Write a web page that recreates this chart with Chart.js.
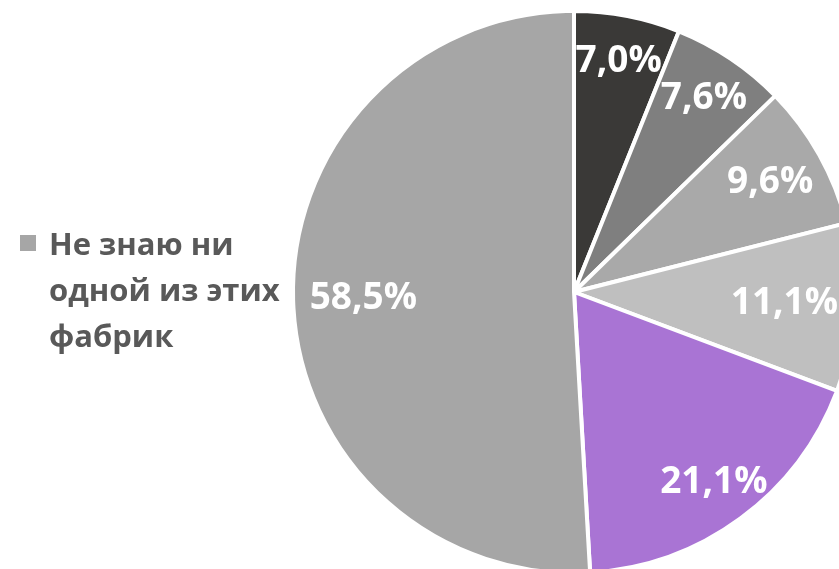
<!DOCTYPE html>
<html>
<head>
<meta charset="utf-8">
<script src="https://cdn.jsdelivr.net/npm/chart.js@4"></script>
<style>
  html, body { margin: 0; padding: 0; background: #fff; overflow: hidden; }
  #wrap { width: 880px; height: 600px; }
</style>
</head>
<body>
<div id="wrap"><canvas id="pie" width="880" height="600"></canvas></div>
<script>
// данные с картинки (сумма > 100, несколько ответов)
const categories = ['', '', '', '', '', 'Не знаю ни одной из этих фабрик'];
const shares = [7.0, 7.6, 9.6, 11.1, 21.1, 58.5];
const colors = ['#3a3937', '#7f7f7f', '#a9a9a9', '#bfbfbf', '#a974d4', '#a6a6a6'];
const legendShown = [5]; // видна только эта подпись легенды

// подписи долей внутри сектора
const sliceLabels = {
  id: 'sliceLabels',
  afterDatasetsDraw(chart, args, opts) {
    const ctx = chart.ctx;
    const meta = chart.getDatasetMeta(0);
    ctx.save();
    ctx.fillStyle = '#ffffff';
    ctx.font = 'bold 37px "Open Sans"';
    ctx.textAlign = 'center';
    ctx.textBaseline = 'middle';
    meta.data.forEach((arc, i) => {
      const p = arc.getProps(['x', 'y', 'startAngle', 'endAngle', 'outerRadius'], true);
      const mid = (p.startAngle + p.endAngle) / 2;
      const r = p.outerRadius * opts.radius[i];
      const txt = shares[i].toFixed(1).replace('.', ',') + '%';
      ctx.fillText(txt, p.x + Math.cos(mid) * r, p.y + Math.sin(mid) * r);
    });
    ctx.restore();
  }
};

// легенда слева, с переносом строк
const sideLegend = {
  id: 'sideLegend',
  afterDraw(chart, args, opts) {
    const ctx = chart.ctx;
    ctx.save();
    ctx.font = 'bold 31px "Open Sans"';
    ctx.textBaseline = 'alphabetic';
    legendShown.forEach(i => {
      const words = categories[i].split(' ');
      let lines = [], cur = '';
      words.forEach(w => {
        const t = cur ? cur + ' ' + w : w;
        if (ctx.measureText(t).width > opts.maxWidth && cur) { lines.push(cur); cur = w; }
        else cur = t;
      });
      lines.push(cur);
      ctx.fillStyle = colors[i];
      ctx.fillRect(opts.x, opts.y, 16, 16);
      ctx.fillStyle = '#595959';
      lines.forEach((l, k) => ctx.fillText(l, opts.x + 29, opts.y + 20 + k * 46));
    });
    ctx.restore();
  }
};

new Chart(document.getElementById('pie'), {
  type: 'pie',
  data: {
    labels: categories,
    datasets: [{
      data: shares,
      backgroundColor: colors,
      borderColor: '#ffffff',
      borderWidth: 4
    }]
  },
  options: {
    responsive: false,
    devicePixelRatio: 1,
    animation: false,
    layout: { padding: { left: 291, top: 9, right: 23, bottom: 25 } },
    plugins: {
      legend: { display: false },
      tooltip: { enabled: false },
      sliceLabels: { radius: [0.835, 0.83, 0.8, 0.75, 0.84, 0.75] },
      sideLegend: { x: 20, y: 235, maxWidth: 255 }
    }
  },
  plugins: [sliceLabels, sideLegend]
});
</script>
</body>
</html>
